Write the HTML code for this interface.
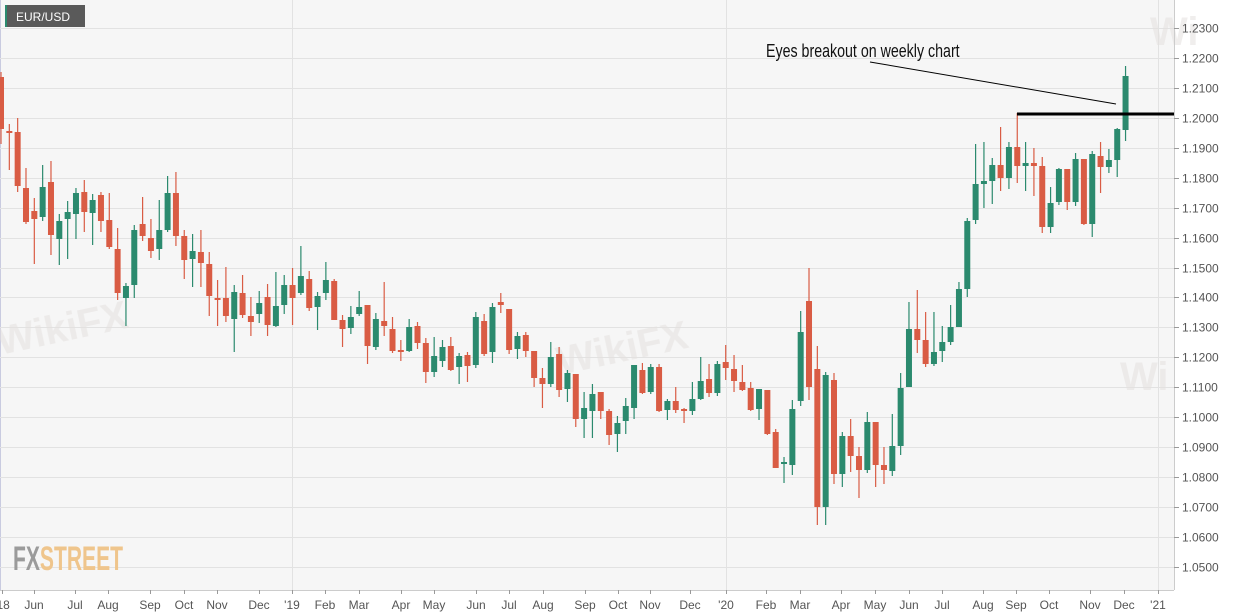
<!DOCTYPE html>
<html><head><meta charset="utf-8">
<style>
html,body{margin:0;padding:0;background:#fff;}
body{width:1245px;height:616px;overflow:hidden;position:relative;font-family:"Liberation Sans",sans-serif;}
svg{position:absolute;left:0;top:0;}
</style></head>
<body>
<svg id="c" width="1245" height="616" xmlns="http://www.w3.org/2000/svg">
<rect x="0" y="0" width="1174" height="590" fill="#f6f6f6"/>
<line x1="0.5" y1="0" x2="0.5" y2="590" stroke="#c9cbe0" stroke-width="1"/>
<g id="grid"></g>
<g font-family="Liberation Sans, sans-serif" font-size="40" font-weight="bold" fill="#e4e1df" opacity="0.55">
<text x="1120" y="390">Wi</text>
<text x="560" y="375" transform="rotate(-12 560 375)">WikiFX</text>
<text x="0" y="355" transform="rotate(-12 0 355)">WikiFX</text>
<text x="1150" y="45">Wi</text>
</g>
<g id="cand"></g>
<line x1="1017" y1="114" x2="1174" y2="114" stroke="#000" stroke-width="3"/>
<line x1="870" y1="62" x2="1116" y2="104" stroke="#000" stroke-width="1"/>
<text x="766" y="57" font-family="Liberation Sans Narrow, Liberation Sans, sans-serif" font-size="18" fill="#111" transform="translate(766 0) scale(0.79 1) translate(-766 0)">Eyes breakout on  weekly chart</text>
<line x1="0" y1="590.5" x2="1174" y2="590.5" stroke="#ccc"/>
<line x1="1174.5" y1="0" x2="1174.5" y2="590" stroke="#ccc"/>
<g id="axes" font-family="Liberation Sans, sans-serif" font-size="12" fill="#555"></g>
<rect x="5" y="5" width="80" height="22" fill="#5a5a5a"/>
<rect x="5" y="5" width="2" height="22" fill="#2a8a6e"/>
<text x="16" y="21" font-size="12" fill="#fff" font-family="Liberation Sans, sans-serif">EUR/USD</text>
<text x="13" y="570" font-family="Liberation Sans Narrow, Liberation Sans, sans-serif" font-weight="bold" font-size="34" transform="translate(13 0) scale(0.62 1) translate(-13 0)"><tspan fill="#9b9b9b">FX</tspan><tspan fill="#efc58c">STREET</tspan></text>
</svg>
<script>
var NS="http://www.w3.org/2000/svg";
function el(p,n,a){var e=document.createElementNS(NS,n);for(var k in a)e.setAttribute(k,a[k]);p.appendChild(e);return e;}
var grid=document.getElementById('grid'),axes=document.getElementById('axes'),cand=document.getElementById('cand');
for(var i=0;i<=18;i++){var p=1.23-i*0.01;var y=28+i*0.01*2994;y=Math.round(y)+0.5;
el(grid,'line',{x1:0,y1:y,x2:1174,y2:y,stroke:'#e2e2e2','stroke-width':1});
el(axes,'line',{x1:1174,y1:y,x2:1179,y2:y,stroke:'#999'});
var t=el(axes,'text',{x:1182,y:y+4});t.textContent=p.toFixed(4);}
[292,726,1158].forEach(function(x){el(grid,'line',{x1:x+0.5,y1:0,x2:x+0.5,y2:590,stroke:'#e2e2e2'});});
var months=[["'18",2],["Jun",34],["Jul",75],["Aug",108],["Sep",150],["Oct",184],["Nov",217],["Dec",259],["'19",292],["Feb",325],["Mar",359],["Apr",401],["May",434],["Jun",476],["Jul",509],["Aug",543],["Sep",585],["Oct",618],["Nov",650],["Dec",690],["'20",726],["Feb",766],["Mar",800],["Apr",841],["May",875],["Jun",909],["Jul",942],["Aug",983],["Sep",1016],["Oct",1049],["Nov",1090],["Dec",1124],["'21",1158]];
months.forEach(function(m){el(axes,'line',{x1:m[1]+0.5,y1:590,x2:m[1]+0.5,y2:594,stroke:'#999'});var t=el(axes,'text',{x:m[1],y:609,'text-anchor':'middle'});t.textContent=m[0];});
var d="r 77 129 72 144|r 131 133 124 170|r 132 186 118 192|r 188 222 168 224|r 211 219 198 264|g 187 217 165 221|r 182 235 161 255|g 221 239 214 265|g 212 219 201 259|g 193 214 188 239|r 192 212 180 232|g 200 213 194 245|r 195 221 192 232|r 220 247 193 249|r 249 293 228 300|g 286 298 283 326|g 230 285 225 298|r 224 236 197 241|r 238 251 219 258|g 230 249 200 260|g 193 230 176 232|r 193 236 172 246|r 236 260 230 279|g 251 259 234 287|r 252 263 230 287|r 264 296 252 316|r 298 300 280 326|r 298 316 267 322|g 292 319 285 352|r 293 315 275 318|r 316 322 297 336|g 303 314 291 323|r 297 325 284 336|g 306 326 272 327|g 285 305 275 314|r 285 298 268 325|g 276 293 246 295|r 279 308 271 311|g 296 307 292 330|g 280 293 262 300|r 281 320 279 320|r 320 329 315 347|g 317 328 306 334|g 307 314 291 316|r 305 346 305 364|g 319 347 313 350|r 321 326 282 336|r 329 351 317 353|r 350 352 340 361|g 327 351 319 352|r 326 343 322 349|r 343 372 338 383|g 356 372 337 377|g 347 361 340 367|r 346 370 337 371|g 356 367 353 384|r 355 366 352 382|g 317 365 312 368|r 321 354 314 356|g 307 352 303 363|r 302 305 293 313|r 309 350 309 354|g 336 349 332 359|r 335 351 332 357|r 351 378 351 387|r 378 384 368 408|g 357 384 342 387|r 354 390 347 397|g 373 389 370 402|r 374 419 374 427|g 408 419 392 438|g 394 411 384 438|r 392 411 392 419|r 411 435 409 445|g 423 434 416 452|g 406 421 398 434|g 365 408 365 419|r 370 393 363 394|g 367 392 364 394|r 367 411 364 412|g 401 410 399 420|r 401 410 387 413|r 409 411 408 423|g 399 411 382 415|g 381 399 357 400|r 379 393 364 397|g 364 393 361 396|r 362 368 345 380|r 369 381 355 392|r 382 390 365 391|r 388 410 382 411|g 389 409 389 420|r 390 434 390 435|r 432 468 429 468|g 462 464 457 483|g 409 465 400 475|g 332 401 311 406|r 301 387 268 400|r 369 507 346 525|g 375 507 372 525|r 380 474 373 484|g 436 474 432 487|r 436 456 419 472|r 456 470 447 498|g 422 470 412 473|r 422 465 422 487|r 465 470 447 484|g 446 471 414 476|g 388 446 373 455|g 329 387 302 387|r 329 340 290 353|r 340 364 312 367|g 352 364 312 366|g 342 351 326 362|g 327 342 305 345|g 289 327 282 327|g 221 289 218 297|g 184 220 144 224|g 181 184 142 208|g 165 181 158 204|r 165 178 127 191|g 147 178 142 189|r 147 166 113 183|g 163 166 142 191|r 163 166 148 196|r 166 227 157 233|g 203 227 187 233|g 169 202 168 205|r 169 202 169 210|g 159 202 153 206|r 159 224 159 225|g 154 224 151 237|r 156 167 142 193|g 160 167 149 173|g 129 160 128 177|g 76 130 66 141".split('|');
d.forEach(function(s,i){var a=s.split(' ');var c=a[0]=='r'?'#d95c44':'#2b8a6e';var x=1+8.33*i;var bt=+a[1],bb=+a[2],h=+a[3],l=+a[4];
el(cand,'line',{x1:x,y1:h,x2:x,y2:l,stroke:c,'stroke-width':1.2});
el(cand,'rect',{x:x-3,y:bt,width:6,height:Math.max(2,bb-bt),fill:c});});
</script>
</body></html>
